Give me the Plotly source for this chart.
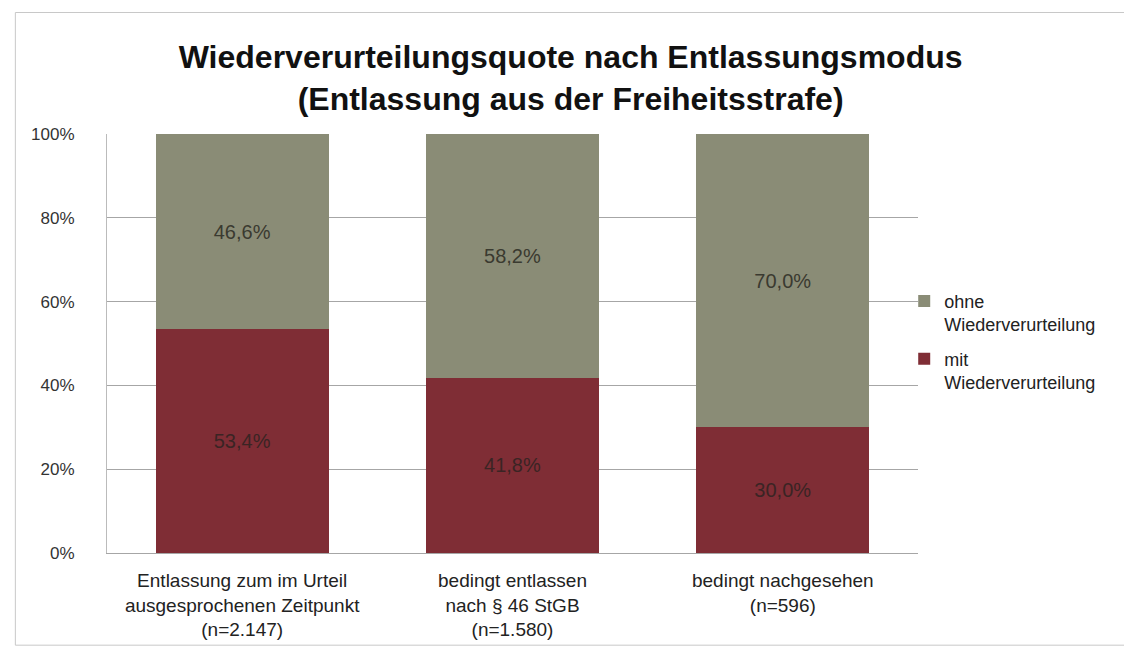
import plotly.graph_objects as go

categories = [
    "Entlassung zum im Urteil<br>ausgesprochenen Zeitpunkt<br>(n=2.147)",
    "bedingt entlassen<br>nach § 46 StGB<br>(n=1.580)",
    "bedingt nachgesehen<br>(n=596)",
]
mit_values = [53.4, 41.8, 30.0]
ohne_values = [46.6, 58.2, 70.0]
series_names = ["mit<br>Wiederverurteilung", "ohne<br>Wiederverurteilung"]
y_ticks = [0, 20, 40, 60, 80, 100]
y_tick_labels = ["0%", "20%", "40%", "60%", "80%", "100%"]


def fmt(v):
    return f"{v:.1f}".replace(".", ",") + "%"


RED = "#7f2d35"
OLIVE = "#8a8c76"
FONT = "Liberation Sans, Arial, sans-serif"

fig = go.Figure()
fig.add_trace(go.Bar(
    x=categories, y=mit_values, name=series_names[0], legendgroup="mit",
    legendrank=2,
    marker=dict(color=RED, line=dict(width=0)),
    text=[fmt(v) for v in mit_values], textposition="inside",
    insidetextanchor="middle",
    textfont=dict(color="#3a2424", size=20, family=FONT),
    hoverinfo="skip",
))
fig.add_trace(go.Bar(
    x=categories, y=ohne_values, name=series_names[1], legendgroup="ohne",
    legendrank=1,
    marker=dict(color=OLIVE, line=dict(width=0)),
    text=[fmt(v) for v in ohne_values], textposition="inside",
    insidetextanchor="middle",
    textfont=dict(color="#3a3a30", size=20, family=FONT),
    hoverinfo="skip",
))

fig.update_layout(
    barmode="stack",
    bargap=0.36,
    width=1132, height=654,
    margin=dict(l=99, r=222, t=126, b=109),
    paper_bgcolor="white", plot_bgcolor="white",
    font=dict(family=FONT, size=18, color="#222222"),
    title=dict(
        text="<b>Wiederverurteilungsquote nach Entlassungsmodus<br>(Entlassung aus der Freiheitsstrafe)</b>",
        x=0.497, xanchor="center", y=0.908, yanchor="middle",
        font=dict(size=32, color="#111111", family=FONT),
    ),
    legend=dict(
        x=0.983, xanchor="left", y=0.645, yanchor="top",
        traceorder="grouped", valign="top",
        font=dict(size=18, color="#222222"),
        itemwidth=30, tracegroupgap=8,
        bgcolor="rgba(0,0,0,0)",
    ),
)
fig.update_yaxes(
    range=[0, 100], tickvals=y_ticks, ticktext=y_tick_labels,
    showgrid=True, gridcolor="#a6a6a6", gridwidth=1,
    showline=True, linecolor="#bbbbbb", linewidth=1,
    zeroline=False, ticks="", ticklen=0, ticklabelstandoff=28,
    tickfont=dict(size=17, color="#333333"),
)
fig.update_xaxes(
    showline=True, linecolor="#a6a6a6", linewidth=1,
    ticks="", ticklabelstandoff=10,
    tickfont=dict(size=19, color="#222222"),
)
# outer frame
fig.add_shape(type="rect", xref="paper", yref="paper",
              x0=-0.113, x1=1.262, y0=-0.22, y1=1.29,
              line=dict(color="#c8c8c8", width=1), layer="below")

fig.write_html("out.html")
